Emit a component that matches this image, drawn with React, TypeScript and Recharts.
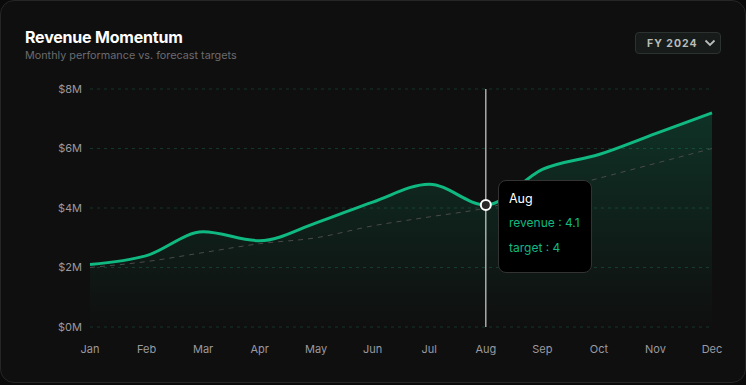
import { ComposedChart, Area, Line, XAxis, YAxis, CartesianGrid, Tooltip } from 'recharts';

const months = ['Jan', 'Feb', 'Mar', 'Apr', 'May', 'Jun', 'Jul', 'Aug', 'Sep', 'Oct', 'Nov', 'Dec'];
const revenue = [2.1, 2.4, 3.2, 2.9, 3.5, 4.2, 4.8, 4.1, 5.3, 5.8, 6.5, 7.2];
const target = [2.0, 2.2, 2.5, 2.8, 3.0, 3.4, 3.7, 4.0, 4.5, 5.0, 5.5, 6.0];
const yTicks = [0, 2, 4, 6, 8];

const data = months.map((month, i) => ({ month, revenue: revenue[i], target: target[i] }));

const GREEN = '#10b981';
const FONT = 'Inter, "Noto Sans", sans-serif';

document.body.style.margin = '0';
document.body.style.background = '#0a0a0a';

/** Black tooltip card with the month and both series in green. */
function MomentumTooltip({ active, payload, label }: any) {
  if (!active || !payload?.length) return null;
  return (
    <div style={{ background: '#000', border: '1px solid #333', borderRadius: 8, padding: '10px 10px 12px', fontFamily: FONT, width: 94, boxSizing: 'border-box', whiteSpace: 'nowrap' }}>
      <div style={{ color: '#fff', fontSize: 12.5, lineHeight: '16px', marginBottom: 3 }}>{label}</div>
      {payload.map((p: any) => (
        <div key={p.dataKey} style={{ color: GREEN, fontSize: 12, lineHeight: '25px' }}>
          {p.dataKey} : {p.value}
        </div>
      ))}
    </div>
  );
}

export default function App() {
  return (
    <div style={{ position: 'relative', width: 746, height: 383, boxSizing: 'border-box', background: '#0f0f0f', border: '1px solid #262626', borderRadius: 14, fontFamily: FONT, overflow: 'hidden' }}>
      <div style={{ position: 'absolute', left: 24, top: 26, color: '#fff', fontSize: 16, fontWeight: 700, letterSpacing: -0.2 }}>Revenue Momentum</div>
      <div style={{ position: 'absolute', left: 24, top: 48, color: '#6b6b70', fontSize: 10.8 }}>Monthly performance vs. forecast targets</div>
      <div style={{ position: 'absolute', left: 634, top: 31, width: 86, height: 22, boxSizing: 'border-box', background: '#171c1a', border: '1px solid #2c3230', borderRadius: 4, display: 'flex', alignItems: 'center', justifyContent: 'space-between', padding: '0 4px 0 11px', color: '#b8bcbb', fontSize: 10.5, fontWeight: 700, letterSpacing: 1 }}>
        <span>FY 2024</span>
        <svg width="12" height="8" viewBox="0 0 12 8"><path d="M1.5 1.5 L6 6 L10.5 1.5" fill="none" stroke="#b8bcbb" strokeWidth="1.8" /></svg>
      </div>
      <div style={{ position: 'absolute', left: -1, top: -1 }}>
        <ComposedChart width={746} height={385} data={data} margin={{ top: 89, right: 34, bottom: 28, left: 30 }}>
          <defs>
            <linearGradient id="revFill" x1="0" y1="0" x2="0" y2="1">
              <stop offset="0%" stopColor={GREEN} stopOpacity={0.34} />
              <stop offset="100%" stopColor={GREEN} stopOpacity={0} />
            </linearGradient>
          </defs>
          <CartesianGrid vertical={false} stroke="#15362a" strokeDasharray="3 4" />
          <XAxis dataKey="month" axisLine={false} tickLine={false} tickMargin={12} tick={{ fill: '#9a9aa0', fontSize: 11 }} />
          <YAxis width={60} domain={[0, 8]} ticks={yTicks} axisLine={false} tickLine={false} tickFormatter={(v) => `$${v}M`} tick={{ fill: '#9a9aa0', fontSize: 11 }} />
          <Tooltip
            defaultIndex={7}
            position={{ x: 498, y: 180 }}
            cursor={{ stroke: '#cfcfcf', strokeWidth: 1.2 }}
            content={<MomentumTooltip />}
            isAnimationActive={false}
          />
          <Area type="monotone" dataKey="revenue" stroke={GREEN} strokeWidth={3} fill="url(#revFill)" activeDot={{ r: 5, fill: '#2a2a2a', stroke: '#fff', strokeWidth: 2 }} dot={false} isAnimationActive={false} />
          <Line type="monotone" dataKey="target" stroke="#4a4a4a" strokeWidth={1} strokeDasharray="5 5" dot={false} activeDot={false} isAnimationActive={false} />
        </ComposedChart>
      </div>
    </div>
  );
}
